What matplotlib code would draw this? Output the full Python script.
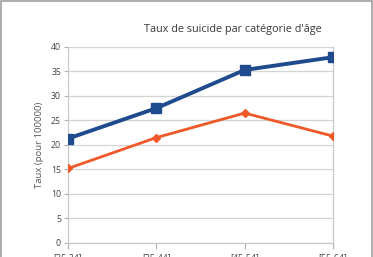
import matplotlib
matplotlib.use("Agg")
import matplotlib.pyplot as plt
from matplotlib.patches import Rectangle

categories = ["[25-34]", "[35-44]", "[45-54]", "[55-64]"]
serie_bleue = [21.3, 27.5, 35.3, 37.9]
serie_orange = [15.2, 21.5, 26.5, 21.8]
yticks = [0, 5, 10, 15, 20, 25, 30, 35, 40]

plt.rcParams['font.family'] = ['Open Sans', 'DejaVu Sans']

fig = plt.figure(figsize=(3.73, 2.57), dpi=100)
ax = fig.add_axes([0.1823, 0.0545, 0.7105, 0.763])

x = list(range(len(categories)))
ax.plot(x, serie_bleue, color='#1f4b8e', lw=2.8, marker='s', ms=6.5, zorder=3)
ax.plot(x, serie_orange, color='#f0582a', lw=2.0, marker='D', ms=4, zorder=3)

ax.set_xlim(0, 3)
ax.set_ylim(0, 40)
ax.set_yticks(yticks)
ax.set_xticks(x)
ax.set_xticklabels(categories)
ax.grid(axis='y', color='#d4d4d4', lw=0.9)
ax.spines['top'].set_visible(False)
for s in ['left', 'right', 'bottom']:
    ax.spines[s].set_color('#c8c8c8')
    ax.spines[s].set_linewidth(0.9)
ax.tick_params(axis='y', length=3, width=0.8, color='#b0b0b0', pad=2,
               labelsize=6.3, labelcolor='#444444')
ax.tick_params(axis='x', length=4, width=0.8, color='#b0b0b0', pad=3,
               labelsize=6.3, labelcolor='#444444')
ax.set_ylabel("Taux (pour 100000)", fontsize=6.8, color='#555555', labelpad=5)

fig.text(0.623, 0.887, "Taux de suicide par catégorie d'âge", ha='center',
         va='center', fontsize=7.8, color='#3a3a3a')

fig.patches.append(Rectangle((0.002, -0.1), 0.994, 1.096, transform=fig.transFigure,
                             fill=False, edgecolor='#a0a0a0', lw=1.2))

fig.savefig("out.png", dpi=100)
